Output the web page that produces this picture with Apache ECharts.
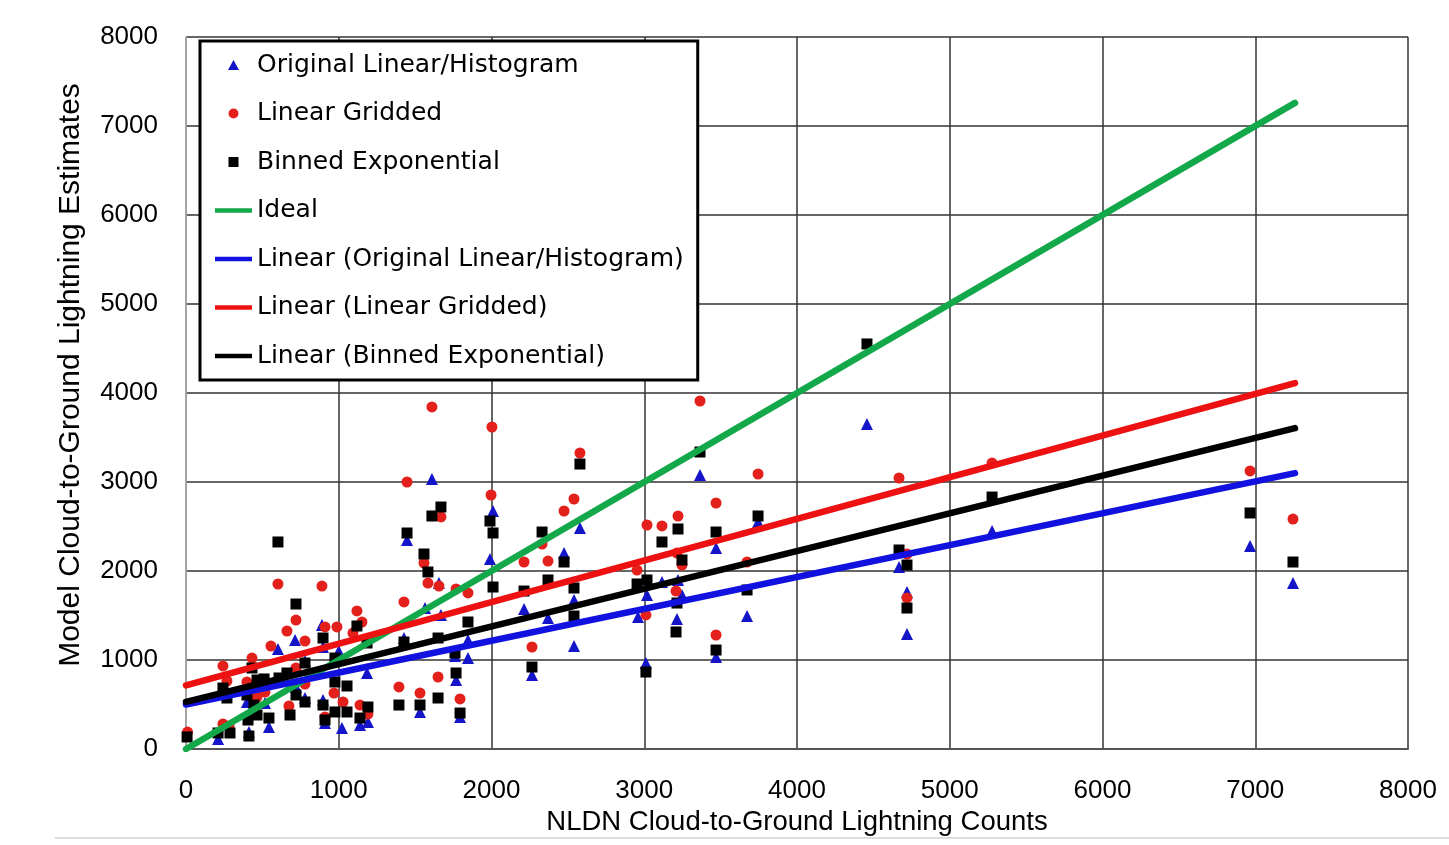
<!DOCTYPE html>
<html>
<head>
<meta charset="utf-8">
<script src="https://cdn.jsdelivr.net/npm/echarts@6/dist/echarts.min.js"></script>
<style>html,body{margin:0;padding:0;background:#fff;}#c{width:1449px;height:845px;}</style>
</head>
<body>
<div id="c"></div>
<script>
// ---- data ----
const xTicks = [0, 1000, 2000, 3000, 4000, 5000, 6000, 7000, 8000];
const yTicks = [0, 1000, 2000, 3000, 4000, 5000, 6000, 7000, 8000];

const seriesNames = [
  'Original Linear/Histogram', 'Linear Gridded', 'Binned Exponential', 'Ideal',
  'Linear (Original Linear/Histogram)', 'Linear (Linear Gridded)', 'Linear (Binned Exponential)'
];

const originalLinear = [
  [210,112],[412,191],[543,247],[399,528],[517,517],[602,1124],[714,1225],[779,989],[779,573],[720,697],
  [890,1393],[897,1146],[897,551],[910,292],[1021,236],[1139,270],[1191,303],[1185,854],[1000,1100],
  [1427,1247],[1565,1584],[1610,3034],[1447,2348],[1656,1865],[1669,1506],[1532,416],[1761,1045],
  [1768,775],[1794,360],[1846,1225],[1846,1022],[2010,2674],[1990,2135],[2213,1573],[2370,1472],
  [2475,2202],[2540,1674],[2540,1157],[2579,2483],[2265,831],[2959,1483],[3011,966],[3018,1730],
  [3214,1461],[3247,1730],[3116,1876],[3221,1899],[3365,3079],[3470,2258],[3470,1034],[3673,1494],
  [3745,2551],[4458,3652],[4668,2045],[4720,1764],[4720,1292],[5277,2449],[6966,2281],[7247,1865]
];

const linearGridded = [
  [10,190],[242,281],[282,258],[242,933],[268,764],[432,1022],[399,753],[465,753],[517,640],[465,584],
  [556,1157],[602,1854],[661,1326],[720,1449],[779,1213],[720,910],[779,730],[674,483],[890,1831],
  [910,1371],[988,1371],[969,629],[910,360],[1028,528],[1119,1551],[1152,1427],[1093,1303],[1139,494],
  [1191,393],[1447,3000],[1610,3843],[1669,2607],[1558,2090],[1584,1865],[1656,1831],[1768,1798],
  [1846,1753],[1427,1652],[1394,697],[1532,629],[1650,809],[1794,562],[1997,2854],[2003,3618],
  [2475,2674],[2540,2809],[2579,3326],[2331,2303],[2213,2101],[2370,2112],[2265,1146],[2953,2011],
  [3018,2517],[3116,2506],[3221,2618],[3214,2202],[3247,2067],[3011,1506],[3208,1775],[3365,3910],
  [3470,2764],[3470,1281],[3673,2101],[3745,3090],[4668,3045],[4720,2191],[4720,1697],[5277,3213],
  [6966,3124],[7247,2584]
];

const binnedExponential = [
  [7,135],[210,180],[288,180],[412,146],[406,326],[465,382],[543,348],[445,494],[399,607],[242,685],
  [268,573],[432,910],[465,775],[511,787],[661,854],[609,798],[602,2326],[720,1629],[720,607],[779,528],
  [681,382],[779,966],[897,1247],[897,494],[910,326],[975,753],[975,416],[1054,416],[1054,708],
  [975,1022],[1119,1382],[1185,1191],[1139,348],[1191,472],[1394,494],[1427,1202],[1447,2427],
  [1532,494],[1558,2191],[1584,1989],[1610,2618],[1669,2719],[1650,1247],[1650,573],[1768,854],
  [1761,1079],[1794,404],[1846,1427],[1990,2562],[2010,2427],[2010,1820],[2265,921],[2331,2438],
  [2475,2101],[2370,1899],[2213,1775],[2540,1809],[2540,1494],[2579,3202],[2953,1854],[3018,1899],
  [3011,865],[3116,2326],[3221,2472],[3247,2124],[3214,1640],[3208,1315],[3365,3337],[3470,2438],
  [3470,1112],[3673,1787],[3745,2618],[4458,4551],[4668,2236],[4720,2067],[4720,1584],[5277,2831],
  [6966,2652],[7247,2101]
];

const idealLine = [[0,0],[7260,7260]];
const trendOriginal = [[0,500],[7260,3100]];
const trendGridded = [[0,715],[7260,4112]];
const trendBinned = [[0,530],[7260,3605]];

// ---- chart ----
const chart = echarts.init(document.getElementById('c'), null, {renderer: 'canvas'});
const axisFont = 'Liberation Sans';
const colors = ['#1414c8', '#e3201b', '#000000', '#13a84a', '#1212e0', '#ee1111', '#000000'];
const triPath = 'path://M5,0L10,9L0,9Z';
const dotPath = 'path://M5,0A5,5,0,1,1,4.99,0Z';
const sqPath = 'path://M0,0L9,0L9,9L0,9Z';
const linePath = 'path://M0,0L40,0L40,4.6L0,4.6Z';
function scatter(name, data, symbol, size, color) {
  return {name, type: 'scatter', data, symbol, symbolSize: size,
    itemStyle: {color, opacity: 1}, z: 2, emphasis: {disabled: true}};
}
function line(name, data, color) {
  return {name, type: 'line', data, symbol: 'none', showSymbol: false,
    lineStyle: {color, width: 6.5, cap: 'round'}, itemStyle: {color}, z: 3, silent: true, animation: false};
}
const legendIcons = [triPath, dotPath, sqPath, linePath, linePath, linePath, linePath];
chart.setOption({
  animation: false,
  backgroundColor: '#fff',
  grid: {left: 186, right: 41, top: 37, bottom: 96, containLabel: false},
  legend: {
    orient: 'vertical', left: 200, top: 41,
    data: seriesNames.map((n, i) => ({name: n, icon: legendIcons[i], itemStyle: {color: colors[i]}})),
    backgroundColor: '#fff', borderColor: '#000', borderWidth: 3,
    padding: [10, 14, 10, 15],
    itemWidth: 37, itemHeight: 10, itemGap: 20.5, symbolKeepAspect: true,
    selectedMode: false,
    textStyle: {fontFamily: 'DejaVu Sans', fontSize: 25, color: '#000', lineHeight: 28}
  },
  xAxis: {
    type: 'value', min: xTicks[0], max: xTicks[xTicks.length - 1], interval: xTicks[1] - xTicks[0],
    name: 'NLDN Cloud-to-Ground Lightning Counts', nameLocation: 'middle', nameGap: 57,
    nameTextStyle: {fontFamily: axisFont, fontSize: 27.5, color: '#000'},
    axisLine: {show: true, lineStyle: {color: '#555', width: 2}},
    axisTick: {show: false},
    axisLabel: {margin: 29, fontFamily: axisFont, fontSize: 26, color: '#000', formatter: v => String(v)},
    splitLine: {show: true, lineStyle: {color: '#333', width: 1.5}}
  },
  yAxis: {
    type: 'value', min: yTicks[0], max: yTicks[yTicks.length - 1], interval: yTicks[1] - yTicks[0],
    name: 'Model Cloud-to-Ground Lightning Estimates', nameLocation: 'middle', nameGap: 100,
    nameTextStyle: {fontFamily: axisFont, fontSize: 30, color: '#000', padding: [0, 0, 0, 36]},
    axisLine: {show: true, lineStyle: {color: '#bbb', width: 1.5}},
    axisTick: {show: false},
    axisLabel: {margin: 28, fontFamily: axisFont, fontSize: 26, color: '#000', formatter: v => String(v)},
    splitLine: {show: true, lineStyle: {color: '#333', width: 1.5}}
  },
  graphic: [{
    type: 'line', shape: {x1: 55, y1: 838, x2: 1449, y2: 838},
    style: {stroke: '#dcdcdc', lineWidth: 2}, silent: true
  }],
  series: [
    scatter(seriesNames[0], originalLinear, 'triangle', 12, colors[0]),
    scatter(seriesNames[1], linearGridded, 'circle', 11, colors[1]),
    scatter(seriesNames[2], binnedExponential, 'rect', 11, colors[2]),
    line(seriesNames[3], idealLine, colors[3]),
    line(seriesNames[4], trendOriginal, colors[4]),
    line(seriesNames[5], trendGridded, colors[5]),
    line(seriesNames[6], trendBinned, colors[6])
  ]
});
</script>
</body>
</html>
